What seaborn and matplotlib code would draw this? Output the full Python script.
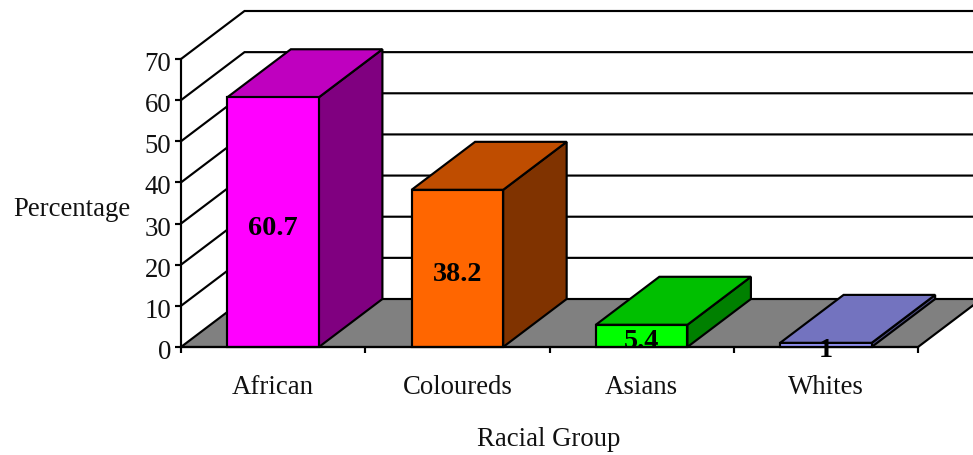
import matplotlib
matplotlib.use("Agg")
import matplotlib.pyplot as plt
import matplotlib.transforms as mtransforms
import pandas as pd
import seaborn as sns
from matplotlib.patches import Polygon

groups = ["African", "Coloureds", "Asians", "Whites"]
percentages = [60.7, 38.2, 5.4, 1]
front_colors = ["#FF00FF", "#FF6600", "#00FF00", "#9999FF"]
top_colors = ["#BF00BF", "#BF4D00", "#00BF00", "#7373BF"]
side_colors = ["#800080", "#803300", "#008000", "#4D4D80"]
y_ticks = [0, 10, 20, 30, 40, 50, 60, 70]

sns.set_theme(style="white")
plt.rcParams["font.family"] = ["Liberation Serif", "DejaVu Serif"]

W, H = 973, 455
LEFT, RIGHT, BASE, TOP = 181, 918, 347, 59
DEPTH_X_PX, DEPTH_Y_PX = 63.5, 48
LW = 1.55
INK = "#000000"
TEXT = "#111111"
FONT = 19.3

fig = plt.figure(figsize=(W / 100, H / 100), dpi=100, facecolor="white")
ax = fig.add_axes([LEFT / W, 1 - BASE / H, (RIGHT - LEFT) / W, (BASE - TOP) / H])
ax.set_facecolor("none")

table = pd.DataFrame({"group": groups, "pct": percentages})
sns.barplot(
    data=table, x="group", y="pct", hue="group", palette=front_colors,
    width=0.497, dodge=False, legend=False, saturation=1,
    edgecolor=INK, linewidth=LW, zorder=5, ax=ax,
)
ax.set_xlim(-0.5, len(groups) - 0.5)
ax.set_ylim(0, 70)

# Depth of the oblique projection, expressed in data units
dx = DEPTH_X_PX * len(groups) / (RIGHT - LEFT)
dy = DEPTH_Y_PX * 70 / (BASE - TOP)
x0, x1 = ax.get_xlim()

# Floor of the box
ax.add_patch(Polygon(
    [(x0, 0), (x1, 0), (x1 + dx, dy), (x0 + dx, dy)],
    closed=True, facecolor="#808080", edgecolor=INK, linewidth=LW,
    clip_on=False, zorder=1,
))

# Gridlines running over the left and back walls
for v in y_ticks[1:]:
    ax.plot([x0, x0 + dx, x1 + dx], [v, v + dy, v + dy], color=INK, lw=LW,
            clip_on=False, zorder=2, solid_joinstyle="miter")

# Side and top faces extruded from each front face
for bar, top_c, side_c in zip(ax.patches, top_colors, side_colors):
    bl, br = bar.get_x(), bar.get_x() + bar.get_width()
    h = bar.get_height()
    ax.add_patch(Polygon(
        [(br, 0), (br + dx, dy), (br + dx, h + dy), (br, h)],
        closed=True, facecolor=side_c, edgecolor=INK, linewidth=LW,
        clip_on=False, zorder=4, joinstyle="miter",
    ))
    ax.add_patch(Polygon(
        [(bl, h), (br, h), (br + dx, h + dy), (bl + dx, h + dy)],
        closed=True, facecolor=top_c, edgecolor=INK, linewidth=LW,
        clip_on=False, zorder=4, joinstyle="miter",
    ))
    bar.set_clip_on(False)

# Value labels at the middle of each front face
for i, v in enumerate(percentages):
    ax.annotate(f"{v:g}", (i, v / 2), xytext=(0, -6), textcoords="offset pixels",
                ha="center", va="center", fontsize=20.3, fontweight="bold",
                color=INK, zorder=6, annotation_clip=False)

# Axes frame and ticks
for side in ("top", "right"):
    ax.spines[side].set_visible(False)
for side in ("left", "bottom"):
    ax.spines[side].set_linewidth(LW)
    ax.spines[side].set_color(INK)
    ax.spines[side].set_zorder(7)

ax.set_yticks(y_ticks)
ax.set_yticklabels([str(t) for t in y_ticks], fontsize=FONT, color=TEXT)
ax.set_xticks([i - 0.5 for i in range(len(groups) + 1)])
ax.set_xticklabels([])
ax.set_xticks(range(len(groups)), labels=groups, minor=True)
ax.tick_params(axis="both", which="major", length=4.3, width=LW, color=INK,
               direction="out", left=True, bottom=True, pad=2.8)
ax.tick_params(axis="x", which="minor", length=0, pad=20.5, labelsize=FONT,
               labelcolor=TEXT, bottom=False)

# Numbers on the vertical axis sit slightly below their ticks
nudge = mtransforms.ScaledTranslation(0, -2.5 / 100, fig.dpi_scale_trans)
for label in ax.get_yticklabels():
    label.set_transform(label.get_transform() + nudge)

ax.set_xlabel("Racial Group", fontsize=FONT, color=TEXT)
ax.xaxis.set_label_coords((549 - LEFT) / (RIGHT - LEFT), (BASE - 439) / (BASE - TOP))
ax.xaxis.label.set_va("center")
ax.set_ylabel("Percentage", fontsize=FONT, color=TEXT, rotation=0,
              ha="right", va="center")
ax.yaxis.set_label_coords((130 - LEFT) / (RIGHT - LEFT), (BASE - 210) / (BASE - TOP))

fig.savefig("out.png", dpi=100, facecolor="white")
